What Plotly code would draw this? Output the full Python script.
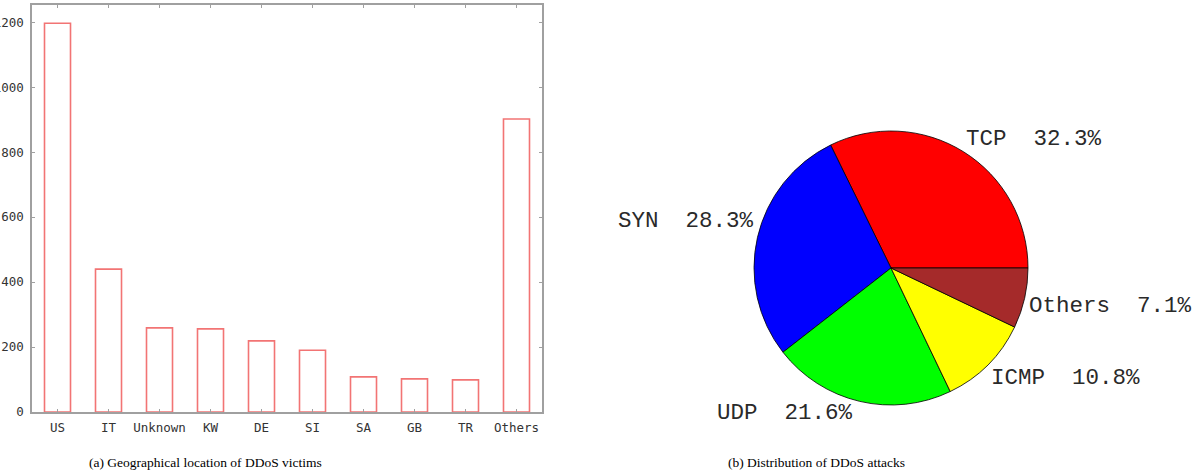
import plotly.graph_objects as go

W, H = 1198, 472

# ---- data: (a) victims by country ----
countries = ["US", "IT", "Unknown", "KW", "DE", "SI", "SA", "GB", "TR", "Others"]
victims = [1197, 440, 259, 256, 219, 190, 108, 102, 99, 902]
y_ticks = [0, 200, 400, 600, 800, 1000, 1200]

# ---- data: (b) attack distribution ----
attack_types = ["TCP", "SYN", "UDP", "ICMP", "Others"]
attack_share = [32.3, 28.3, 21.6, 10.8, 7.1]

# ---- styles ----
slice_colors = ["#ff0000", "#0000ff", "#00ff00", "#ffff00", "#a52a2a"]
label_px = [(964, 139), (616, 221), (715, 413), (989, 378), (1027, 306)]  # left x, middle y (px)
captions = ["(a) Geographical location of DDoS victims", "(b) Distribution of DDoS attacks"]
caption_px = [(205, 462), (816, 462)]

axis_col = "#a0a0a0"
tick_font = dict(family="DejaVu Sans Mono", size=12.5, color="#333333")

fig = go.Figure()

fig.add_trace(go.Bar(
    x=countries, y=victims, width=0.51,
    marker=dict(color="rgba(255,255,255,0)", line=dict(color="#f27474", width=1.6)),
    xaxis="x", yaxis="y", showlegend=False,
))

# first slice starts at 3 o'clock and runs counter-clockwise
first_angle = 360.0 * attack_share[0] / sum(attack_share)
cx, cy, r = 891, 268, 137
fig.add_trace(go.Pie(
    labels=attack_types, values=attack_share, sort=False,
    direction="counterclockwise", rotation=90 - first_angle,
    marker=dict(colors=slice_colors, line=dict(color="#000000", width=0.8)),
    textinfo="none", hoverinfo="label+percent", showlegend=False,
    domain=dict(x=[(cx - r) / W, (cx + r) / W], y=[(H - cy - r) / H, (H - cy + r) / H]),
))

annotations = []
for name, share, (px, py) in zip(attack_types, attack_share, label_px):
    annotations.append(dict(
        text=f"{name}  {share}%", x=px / W, y=1 - py / H, xref="paper", yref="paper",
        xanchor="left", yanchor="middle", showarrow=False,
        font=dict(family="Liberation Mono", size=22.5, color="#2a2a2a"),
    ))
for text, (px, py) in zip(captions, caption_px):
    annotations.append(dict(
        text=text, x=px / W, y=1 - py / H, xref="paper", yref="paper",
        xanchor="center", yanchor="middle", showarrow=False,
        font=dict(family="Liberation Serif", size=13.5, color="#000000"),
    ))

fig.update_layout(
    width=W, height=H, margin=dict(l=0, r=0, t=0, b=0, autoexpand=False),
    paper_bgcolor="white", plot_bgcolor="white",
    xaxis=dict(
        domain=[32 / W, 542 / W], range=[-0.5, 9.5], type="category", automargin=False,
        showline=True, linecolor=axis_col, linewidth=1.5, mirror="allticks",
        ticks="inside", ticklen=3, tickcolor=axis_col, tickwidth=1,
        showgrid=False, zeroline=False, tickfont=tick_font, ticklabelstandoff=3,
    ),
    yaxis=dict(
        domain=[(H - 412) / H, (H - 5) / H], range=[0, 1253], automargin=False,
        tickvals=y_ticks, ticktext=[str(v) for v in y_ticks],
        showline=True, linecolor=axis_col, linewidth=1.5, mirror="allticks",
        ticks="inside", ticklen=3, tickcolor=axis_col, tickwidth=1,
        showgrid=False, zeroline=False, tickfont=tick_font, ticklabelstandoff=4,
    ),
    annotations=annotations,
)

fig.write_html("out.html")
